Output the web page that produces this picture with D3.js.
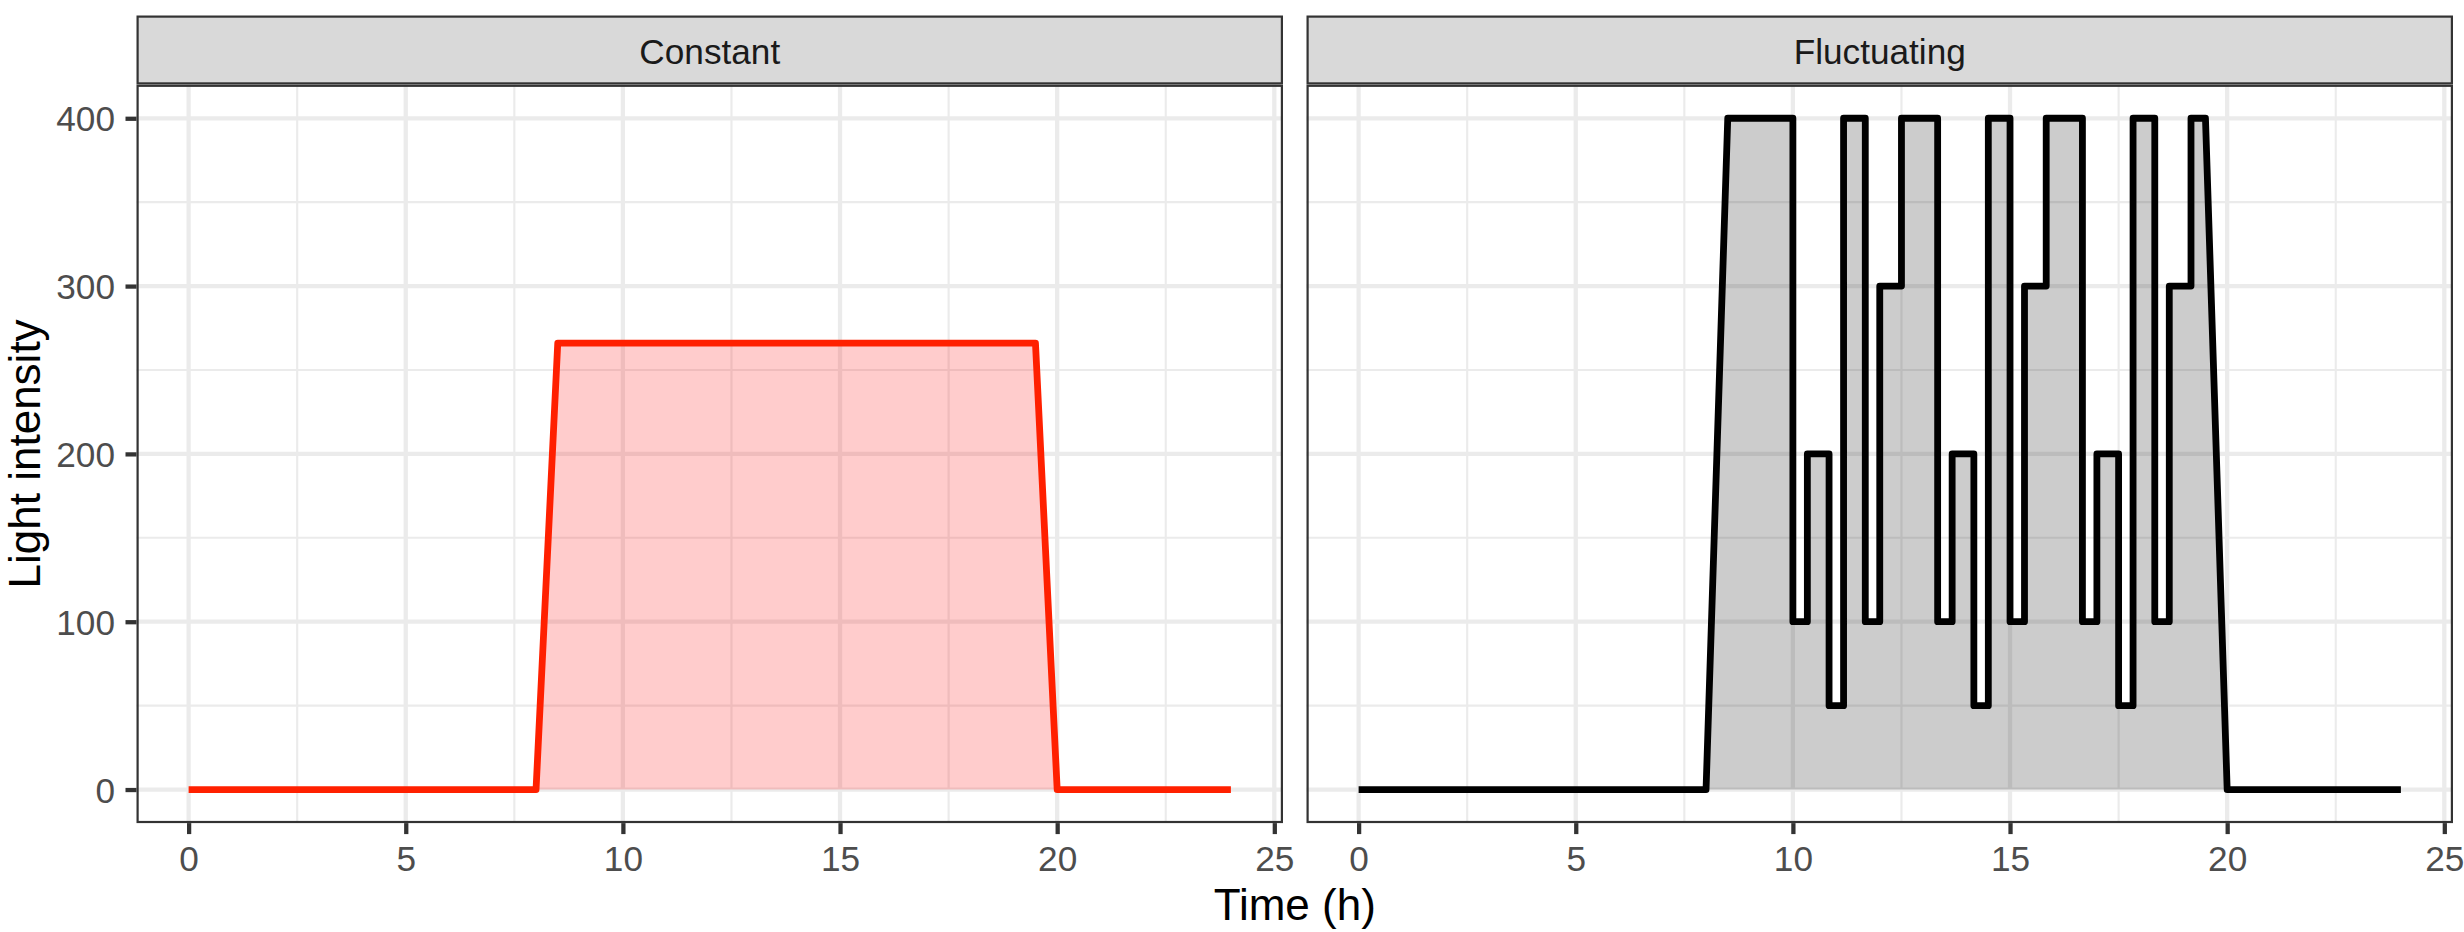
<!DOCTYPE html>
<html>
<head>
<meta charset="utf-8">
<script src="https://cdn.jsdelivr.net/npm/d3@7"></script>
<style>
  html, body { margin: 0; padding: 0; background: #ffffff; }
  svg { display: block; font-family: "Liberation Sans", Arial, Helvetica, sans-serif; }
</style>
</head>
<body>
<svg id="chart" width="2464" height="932"></svg>
<script>
// ---------------- DATA ----------------
const panelNames = ["Constant", "Fluctuating"];

// Constant light regime (time in h, intensity)
const constTime  = [0, 8, 8.5, 19.5, 20, 24];
const constLight = [0, 0, 266, 266, 0, 0];

// Fluctuating light regime vertices (time in h, intensity)
const fluctTime = [0, 8, 8.5, 10, 10, 10.333, 10.333, 10.833, 10.833, 11.167, 11.167, 11.667, 11.667, 12, 12, 12.5, 12.5, 13.333,
  13.333, 13.667, 13.667, 14.167, 14.167, 14.5, 14.5, 15, 15, 15.333, 15.333, 15.833, 15.833, 16.667,
  16.667, 17, 17, 17.5, 17.5, 17.833, 17.833, 18.333, 18.333, 18.667, 18.667, 19.167, 19.167, 19.5, 20, 24];
const fluctLight = [0, 0, 400, 400, 100, 100, 200, 200, 50, 50, 400, 400, 100, 100, 300, 300, 400, 400,
  100, 100, 200, 200, 50, 50, 400, 400, 100, 100, 300, 300, 400, 400,
  100, 100, 200, 200, 50, 50, 400, 400, 100, 100, 300, 300, 400, 400, 0, 0];

const xTicks = [0, 5, 10, 15, 20, 25];
const xMinor = [2.5, 7.5, 12.5, 17.5, 22.5];
const yTicks = [0, 100, 200, 300, 400];
const yMinor = [50, 150, 250, 350];

const lineColors = ["#FF2000", "#000000"];
const fillColors = ["#FF0000", "#000000"];

// ---------------- LAYOUT ----------------
const svg = d3.select("#chart");
const panels = [
  { x0: 136.5, x1: 1283 },
  { x0: 1306.5, x1: 2453 }
];
const pTop = 84.7, pBottom = 823.1;
const sTop = 15.5, sBottom = 84.5;
const fontFamily = '"Liberation Sans", Arial, Helvetica, sans-serif';

const y = d3.scaleLinear().domain([-20, 420]).range([pBottom, pTop]);

const series = [
  constTime.map((t, i) => ({ t, v: constLight[i] })),
  fluctTime.map((t, i) => ({ t, v: fluctLight[i] }))
];

panels.forEach((p, k) => {
  const x = d3.scaleLinear().domain([-1.2, 25.2]).range([p.x0, p.x1]);
  const g = svg.append("g");

  // panel background
  g.append("rect").attr("x", p.x0).attr("y", pTop).attr("width", p.x1 - p.x0).attr("height", pBottom - pTop).attr("fill", "#FFFFFF");

  // minor grid
  g.selectAll(".ymin").data(yMinor).enter().append("line")
    .attr("x1", p.x0).attr("x2", p.x1).attr("y1", d => y(d)).attr("y2", d => y(d))
    .attr("stroke", "#EBEBEB").attr("stroke-width", 2.13);
  g.selectAll(".xmin").data(xMinor).enter().append("line")
    .attr("y1", pTop).attr("y2", pBottom).attr("x1", d => x(d)).attr("x2", d => x(d))
    .attr("stroke", "#EBEBEB").attr("stroke-width", 2.13);
  // major grid
  g.selectAll(".ymaj").data(yTicks).enter().append("line")
    .attr("x1", p.x0).attr("x2", p.x1).attr("y1", d => y(d)).attr("y2", d => y(d))
    .attr("stroke", "#EBEBEB").attr("stroke-width", 4.27);
  g.selectAll(".xmaj").data(xTicks).enter().append("line")
    .attr("y1", pTop).attr("y2", pBottom).attr("x1", d => x(d)).attr("x2", d => x(d))
    .attr("stroke", "#EBEBEB").attr("stroke-width", 4.27);

  // area + line
  const area = d3.area().x(d => x(d.t)).y0(y(0)).y1(d => y(d.v));
  const line = d3.line().x(d => x(d.t)).y(d => y(d.v));
  g.append("path").datum(series[k]).attr("d", area)
    .attr("fill", fillColors[k]).attr("fill-opacity", 0.2).attr("stroke", "none");
  g.append("path").datum(series[k]).attr("d", line)
    .attr("fill", "none").attr("stroke", lineColors[k]).attr("stroke-width", 6.8)
    .attr("stroke-linejoin", "round").attr("stroke-linecap", "butt");

  // panel border
  g.append("rect").attr("x", p.x0 + 1.1).attr("y", pTop + 1.1)
    .attr("width", p.x1 - p.x0 - 2.2).attr("height", pBottom - pTop - 2.2)
    .attr("fill", "none").attr("stroke", "#333333").attr("stroke-width", 2.2);

  // strip
  g.append("rect").attr("x", p.x0 + 1.1).attr("y", sTop + 1.1)
    .attr("width", p.x1 - p.x0 - 2.2).attr("height", sBottom - sTop - 2.2)
    .attr("fill", "#D9D9D9").attr("stroke", "#333333").attr("stroke-width", 2.2);
  g.append("text").attr("x", (p.x0 + p.x1) / 2).attr("y", 63.5)
    .attr("text-anchor", "middle").attr("font-size", 35.2).attr("fill", "#1A1A1A")
    .attr("font-family", fontFamily)
    .text(panelNames[k]);

  // x axis
  const xAxis = d3.axisBottom(x).tickValues(xTicks).tickSize(11).tickPadding(11.6).tickFormat(d3.format("d"));
  const ax = g.append("g").attr("transform", `translate(0,${pBottom})`).call(xAxis);
  ax.select(".domain").remove();
  ax.selectAll(".tick line").attr("stroke", "#333333").attr("stroke-width", 4.27);
  ax.selectAll(".tick text").attr("fill", "#4D4D4D").attr("font-size", 35.2).attr("font-family", fontFamily);

  // y axis only on first panel
  if (k === 0) {
    const yAxis = d3.axisLeft(y).tickValues(yTicks).tickSize(11).tickPadding(10.5).tickFormat(d3.format("d"));
    const ay = g.append("g").attr("transform", `translate(${p.x0},0)`).call(yAxis);
    ay.select(".domain").remove();
    ay.selectAll(".tick line").attr("stroke", "#333333").attr("stroke-width", 4.27);
    ay.selectAll(".tick text").attr("fill", "#4D4D4D").attr("font-size", 35.2)
      .attr("font-family", fontFamily).attr("dy", "0.36em");
  }
});

// axis titles
svg.append("text").attr("x", (panels[0].x0 + panels[1].x1) / 2).attr("y", 920)
  .attr("text-anchor", "middle").attr("font-size", 44).attr("fill", "#000000")
  .attr("font-family", fontFamily).text("Time (h)");
svg.append("text").attr("transform", `translate(40,${(pTop + pBottom) / 2}) rotate(-90)`)
  .attr("text-anchor", "middle").attr("font-size", 44).attr("fill", "#000000")
  .attr("font-family", fontFamily).text("Light intensity");
</script>
</body>
</html>
